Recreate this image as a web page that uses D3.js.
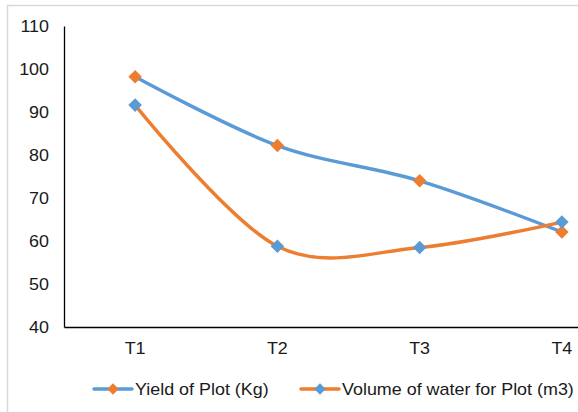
<!DOCTYPE html>
<html>
<head>
<meta charset="utf-8">
<script src="https://cdn.jsdelivr.net/npm/d3@7"></script>
<style>
  html, body { margin: 0; padding: 0; background: #fff; }
  svg { display: block; font-family: "Liberation Sans", Arial, sans-serif; }
</style>
</head>
<body>
<svg id="chart" width="578" height="412"></svg>
<script>
// Treatments on the x axis
const categories = ["T1", "T2", "T3", "T4"];
// Series values
const yieldKg = [98.2, 82.2, 74.0, 62.1];
const waterM3 = [91.6, 58.8, 58.5, 64.4];
// Y axis tick labels
const yTicks = [40, 50, 60, 70, 80, 90, 100, 110];

const seriesNames = ["Yield of Plot (Kg)", "Volume of water for Plot (m3)"];
const BLUE = "#5B9BD5", ORANGE = "#ED7D31";
const TEXT = "#1a1a1a";
const FONT_SIZE = 16;
const WIDEN = 1.12; // glyphs are drawn slightly wide

const series = [
  { name: seriesNames[0], values: yieldKg, line: BLUE, marker: ORANGE },
  { name: seriesNames[1], values: waterM3, line: ORANGE, marker: BLUE }
];

const svg = d3.select("#chart");

// Outer chart frame
svg.append("path")
  .attr("d", "M7.5,412 V5.5 H578")
  .attr("fill", "none")
  .attr("stroke", "#d9d9d9")
  .attr("stroke-width", 1.5);

const plot = { left: 64, top: 26, bottom: 327, right: 633 };

const x = d3.scaleBand().domain(categories).range([plot.left, plot.right]);
const y = d3.scaleLinear().domain([40, 110]).range([plot.bottom, plot.top]);

function styleTicks(sel, dx, dy) {
  sel.selectAll("text")
    .attr("font-size", FONT_SIZE)
    .attr("fill", TEXT)
    .attr("font-family", "Liberation Sans, Arial, sans-serif")
    .attr("x", 0).attr("y", 0)
    .attr("transform", `translate(${dx},${dy}) scale(${WIDEN},1)`);
}

// Y axis
const yAxis = svg.append("g")
  .attr("transform", `translate(${plot.left},0)`)
  .call(d3.axisLeft(y).tickValues(yTicks).tickSize(0));
yAxis.select(".domain").attr("stroke", "#000").attr("stroke-width", 1.3);
styleTicks(yAxis, -15, 0);

// X axis
const xAxis = svg.append("g")
  .attr("transform", `translate(0,${plot.bottom})`)
  .call(d3.axisBottom(x).tickSize(0));
xAxis.select(".domain").attr("stroke", "#000").attr("stroke-width", 1.3);
styleTicks(xAxis, 0, 16);

const cx = c => x(c) + x.bandwidth() / 2;

const line = d3.line()
  .x((d, i) => cx(categories[i]))
  .y(d => y(d))
  .curve(d3.curveCardinal.tension(0));

const diamond = d3.symbol().type(d3.symbolSquare).size(92);

series.forEach(s => {
  svg.append("path")
    .datum(s.values)
    .attr("d", line)
    .attr("fill", "none")
    .attr("stroke", s.line)
    .attr("stroke-width", 3.4)
    .attr("stroke-linecap", "round");
});

series.forEach(s => {
  svg.append("g").selectAll("path")
    .data(s.values)
    .join("path")
    .attr("d", diamond)
    .attr("transform", (d, i) => `translate(${cx(categories[i])},${y(d)}) rotate(45)`)
    .attr("fill", s.marker);
});

// Legend
const legendY = 389;
const legendItems = [
  { x0: 94, ...series[0] },
  { x0: 301, ...series[1] }
];
legendItems.forEach(item => {
  const g = svg.append("g");
  g.append("line")
    .attr("x1", item.x0).attr("x2", item.x0 + 38)
    .attr("y1", legendY).attr("y2", legendY)
    .attr("stroke", item.line).attr("stroke-width", 3.4)
    .attr("stroke-linecap", "round");
  g.append("path")
    .attr("d", d3.symbol().type(d3.symbolSquare).size(64))
    .attr("transform", `translate(${item.x0 + 19},${legendY}) rotate(45)`)
    .attr("fill", item.marker);
  g.append("text")
    .attr("transform", `translate(${item.x0 + 41},${legendY}) scale(${WIDEN},1)`)
    .attr("dy", "0.35em")
    .attr("font-size", FONT_SIZE)
    .attr("fill", TEXT)
    .text(item.name);
});
</script>
</body>
</html>
